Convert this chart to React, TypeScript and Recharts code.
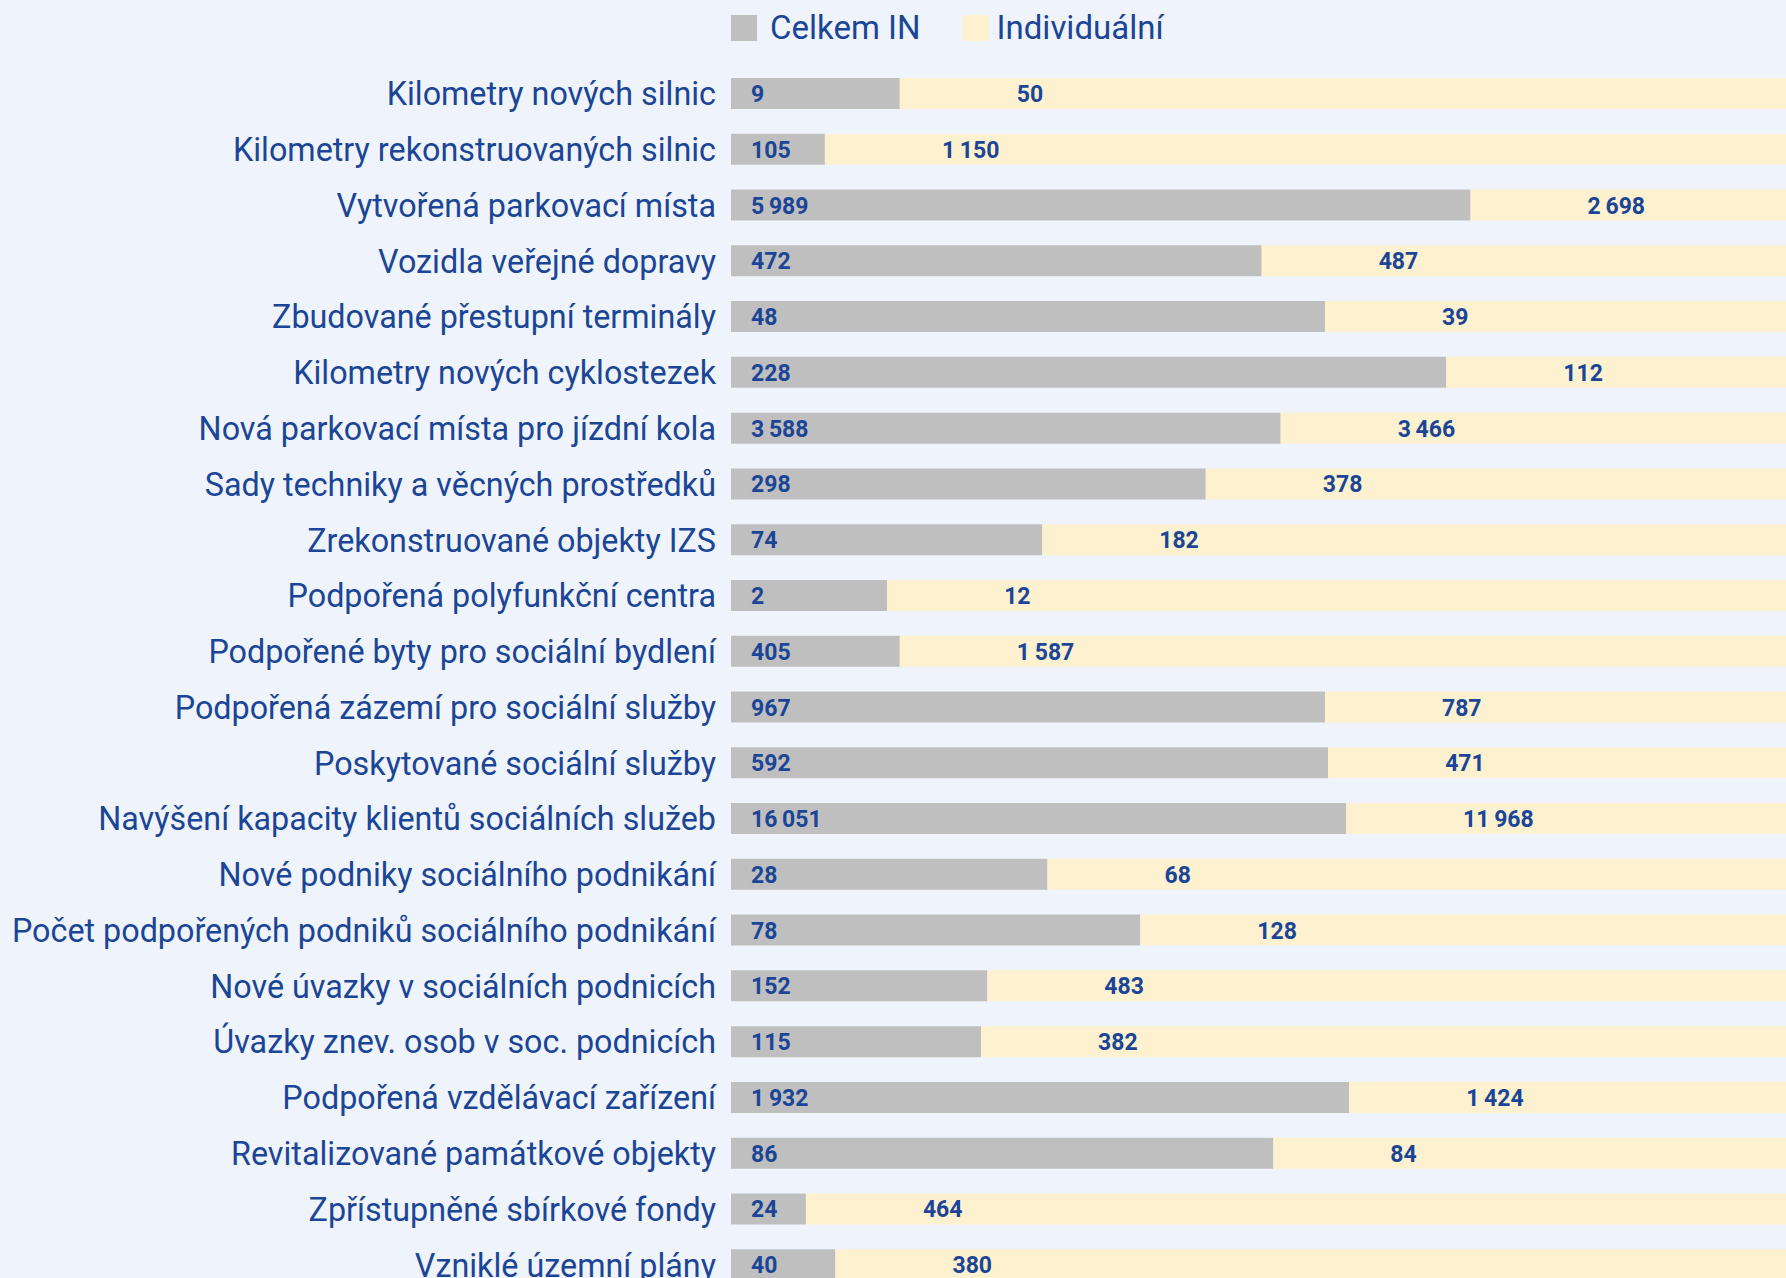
import React from "react";
import { BarChart, Bar, XAxis, YAxis, LabelList } from "recharts";

const categories = [
  "Kilometry nových silnic",
  "Kilometry rekonstruovaných silnic",
  "Vytvořená parkovací místa",
  "Vozidla veřejné dopravy",
  "Zbudované přestupní terminály",
  "Kilometry nových cyklostezek",
  "Nová parkovací místa pro jízdní kola",
  "Sady techniky a věcných prostředků",
  "Zrekonstruované objekty IZS",
  "Podpořená polyfunkční centra",
  "Podpořené byty pro sociální bydlení",
  "Podpořená zázemí pro sociální služby",
  "Poskytované sociální služby",
  "Navýšení kapacity klientů sociálních služeb",
  "Nové podniky sociálního podnikání",
  "Počet podpořených podniků sociálního podnikání",
  "Nové úvazky v sociálních podnicích",
  "Úvazky znev. osob v soc. podnicích",
  "Podpořená vzdělávací zařízení",
  "Revitalizované památkové objekty",
  "Zpřístupněné sbírkové fondy",
  "Vzniklé územní plány",
];

// label values
const celkemIN = [9, 105, 5989, 472, 48, 228, 3588, 298, 74, 2, 405, 967, 592, 16051, 28, 78, 152, 115, 1932, 86, 24, 40];
const individualni = [50, 1150, 2698, 487, 39, 112, 3466, 378, 182, 12, 1587, 787, 471, 11968, 68, 128, 483, 382, 1424, 84, 464, 380];

// bar lengths (% of row)
const podilIN = [16.0, 8.9, 70.1, 50.3, 56.3, 67.8, 52.1, 45.0, 29.5, 14.8, 16.0, 56.3, 56.6, 58.3, 30.0, 38.8, 24.3, 23.7, 58.6, 51.4, 7.1, 9.9];
const podilIndividualni = [84.0, 91.1, 29.9, 49.7, 43.7, 32.2, 47.9, 55.0, 70.5, 85.2, 84.0, 43.7, 43.4, 41.7, 70.0, 61.2, 75.7, 76.3, 41.4, 48.6, 92.9, 90.1];

const data = categories.map((name, i) => ({
  name,
  inShare: podilIN[i],
  indShare: podilIndividualni[i],
  inValue: celkemIN[i],
  indValue: individualni[i],
}));

const BLUE = "#1b4596";
const GRAY = "#bfbfbf";
const YELLOW = "#fdf1d0";
const BG = "#eff4fc";
const FONT = "Roboto, sans-serif";

const fmt = (v: number) => String(v).replace(/\B(?=(\d{3})+(?!\d))/g, "\u2009");

const makeLabel = (offset: number) => (props: any) => {
  const { x, y, height, value } = props;
  return (
    <text
      x={x + offset}
      y={y + height / 2 + 1}
      fill={BLUE}
      fontFamily={FONT}
      fontWeight={700}
      fontSize={23}
      dominantBaseline="central"
    >
      {fmt(value)}
    </text>
  );
};

const LegendBox = () => (
  <div
    style={{
      position: "absolute",
      top: 10,
      left: 731,
      display: "flex",
      alignItems: "center",
      fontFamily: FONT,
      fontSize: 33,
      color: BLUE,
      lineHeight: "36px",
    }}
  >
    <span style={{ width: 26, height: 26, background: GRAY, display: "inline-block", marginRight: 13 }} />
    <span style={{ marginRight: 42 }}>Celkem IN</span>
    <span style={{ width: 26, height: 26, background: YELLOW, display: "inline-block", marginRight: 8 }} />
    <span>Individuální</span>
  </div>
);

export default function App() {
  return (
    <div style={{ width: 1786, height: 1278, overflow: "hidden", background: BG, position: "relative" }}>
      <style>{"body{margin:0}"}</style>
      <LegendBox />
      <BarChart
        layout="vertical"
        width={1786}
        height={1300}
        data={data}
        margin={{ top: 66, right: 0, bottom: 7, left: 0 }}
        barCategoryGap={0}
      >
        <XAxis type="number" hide domain={[0, 100]} />
        <YAxis
          type="category"
          dataKey="name"
          width={731}
          axisLine={false}
          tickLine={false}
          tickSize={0}
          tickMargin={15}
          interval={0}
          tick={{ fill: BLUE, fontFamily: FONT, fontSize: 32.3 }}
        />
        <Bar dataKey="inShare" stackId="a" fill={GRAY} barSize={31} isAnimationActive={false}>
          <LabelList dataKey="inValue" content={makeLabel(20)} />
        </Bar>
        <Bar dataKey="indShare" stackId="a" fill={YELLOW} barSize={31} isAnimationActive={false}>
          <LabelList dataKey="indValue" content={makeLabel(117)} />
        </Bar>
      </BarChart>
    </div>
  );
}
